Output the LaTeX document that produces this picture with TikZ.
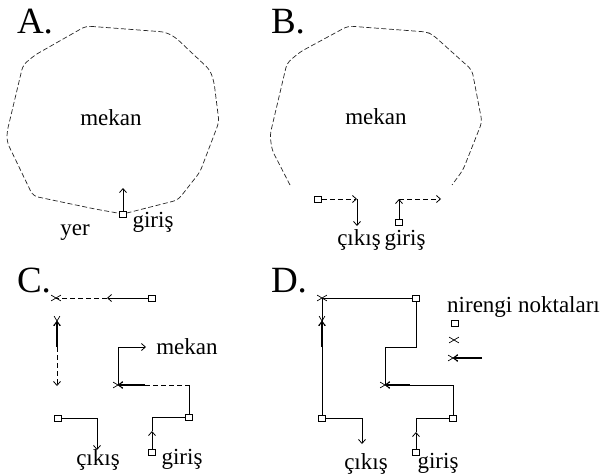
\documentclass[tikz,border=0pt]{standalone}
\usepackage{fontspec}
\setmainfont{Liberation Serif}
\usetikzlibrary{arrows.meta,shapes.misc}
\begin{document}
\begin{tikzpicture}[x=1pt,y=-1pt,
  lab/.style={font=\fontsize{23}{27}\selectfont, inner sep=0pt},
  panel/.style={font=\fontsize{37}{40}\selectfont, inner sep=0pt},
  sq/.style={draw, minimum width=7pt, minimum height=6pt, inner sep=0pt, fill=white, line width=0.8pt},
  hx/.style={draw, cross out, minimum width=9pt, minimum height=5pt, inner sep=0pt, line width=0.7pt},
  vx/.style={draw, cross out, minimum width=5pt, minimum height=9pt, inner sep=0pt, line width=0.7pt},
  ln/.style={line width=0.8pt},
  dsh/.style={line width=0.8pt, dash pattern=on 5pt off 3pt},
  bold/.style={line width=2pt},
  bound/.style={line width=0.7pt, dash pattern=on 5pt off 2.5pt, rounded corners=5pt, black!85},
  tip/.style={-{Straight Barb[length=4pt,width=7pt,line width=0.8pt]}}
]
\useasboundingbox (0,0) rectangle (605,474);

% ---------- A ----------
\node[panel] (LA) at (35,22) {A.};
\draw[bound] (86,26) -- (165,32) -- (175,37) -- (210,70) -- (214,82) -- (219,122) -- (200,172) -- (178,200) -- (123,214) -- (95,209) -- (33,196) -- (7,142) -- (7,132) -- (23,65) -- (35,55) -- cycle;
\node[lab] (mA) at (111,118) {mekan};
\node[sq] (sA) at (123,214) {};
\coordinate (aA) at (123,188);
\draw[ln,tip] (sA) -- (aA);
\node[lab] (gA) at (153,222) {giriş};
\node[lab] (yA) at (75,233) {yer};

% ---------- B ----------
\node[panel] (LB) at (288,22) {B.};
\draw[bound] (290,185) -- (272,150) -- (270,135) -- (287,63) -- (300,52) -- (348,26) -- (427,32) -- (433,35) -- (472,70) -- (482,122) -- (463,170) -- (452,185);
\node[lab] (mB) at (376,117) {mekan};
\node[sq] (sB1) at (318,199) {};
\coordinate (kB1) at (357,199);
\coordinate (eB1) at (357,226);
\draw[dsh,tip] (sB1) -- (kB1);
\draw[ln,tip] (kB1) -- (eB1);
\node[sq] (sB2) at (399,222) {};
\coordinate (kB2) at (399,199);
\coordinate (eB2) at (441,199);
\draw[ln,tip] (sB2) -- (kB2);
\draw[dsh,tip] (kB2) -- (eB2);
\node[lab] (cB) at (359,240) {çıkış};
\node[lab] (gB) at (405,240) {giriş};

% ---------- C ----------
\node[panel] (LC) at (34,281) {C.};
\node[sq] (sC1) at (152,298) {};
\node[hx] (xC1) at (56,298) {};
\coordinate (mC1) at (107,298);
\draw[ln,tip] (sC1) -- (mC1);
\draw[dsh] (mC1) -- (xC1.center);
\node[vx] (xC2) at (57,321) {};
\coordinate (mC2) at (57,347);
\coordinate (eC2) at (57,386);
\draw[bold,tip] (mC2) -- (xC2.center);
\draw[dsh,tip] (mC2) -- (eC2);
\node[hx] (xC3) at (118,385) {};
\coordinate (kC3) at (118,347);
\coordinate (eC3) at (146,347);
\draw[ln,tip] (xC3.center) -- (kC3) -- (eC3);
\node[lab] (mC) at (187,347) {mekan};
\coordinate (mC4) at (145,385);
\coordinate (kC4) at (189,385);
\draw[bold,tip] (mC4) -- (xC3.center);
\draw[dsh] (mC4) -- (kC4);
\node[sq] (sC2) at (189,417) {};
\draw[ln] (kC4) -- (sC2);
\node[sq] (sC3) at (152,452) {};
\coordinate (aC3) at (152,431);
\coordinate (kC5) at (152,417);
\draw[ln,tip] (sC3) -- (aC3);
\draw[ln] (aC3) -- (kC5) -- (sC2);
\node[sq] (sC4) at (58,418) {};
\coordinate (kC6) at (97,418);
\coordinate (eC6) at (97,450);
\draw[ln,tip] (sC4) -- (kC6) -- (eC6);
\node[lab] (cC) at (98,460) {çıkış};
\node[lab] (gC) at (182,459) {giriş};

% ---------- D ----------
\node[panel] (LD) at (289,281) {D.};
\node[sq] (sD1) at (416,298) {};
\node[hx] (xD1) at (322,298) {};
\draw[ln] (sD1) -- (xD1.center);
\node[vx] (xD2) at (322,321) {};
\node[sq] (sD2) at (322,418) {};
\draw[ln] (xD1.center) -- (sD2);
\coordinate (mD2) at (322,347);
\draw[bold,tip] (mD2) -- (xD2.center);
\coordinate (kD3) at (416,347);
\coordinate (kD4) at (385,347);
\node[hx] (xD3) at (385,385) {};
\draw[ln] (sD1) -- (kD3) -- (kD4) -- (xD3.center);
\coordinate (mD5) at (410,385);
\coordinate (kD5) at (453,385);
\node[sq] (sD3) at (453,418) {};
\draw[bold,tip] (mD5) -- (xD3.center);
\draw[ln] (mD5) -- (kD5) -- (sD3);
\node[sq] (sD4) at (416,452) {};
\coordinate (aD4) at (416,432);
\coordinate (kD6) at (416,418);
\draw[ln,tip] (sD4) -- (aD4);
\draw[ln] (aD4) -- (kD6) -- (sD3);
\coordinate (kD7) at (362,418);
\coordinate (eD7) at (362,444);
\draw[ln,tip] (sD2) -- (kD7) -- (eD7);
\node[lab] (cD) at (366,464) {çıkış};
\node[lab] (gD) at (438,463) {giriş};

% legend
\node[lab, anchor=west] (leg) at (447,307) {nirengi noktaları};
\node[sq] (lsq) at (455,323) {};
\node[hx] (lx) at (454,340) {};
\node[hx] (lxa) at (453,358) {};
\coordinate (le) at (482,358);
\draw[bold,tip] (le) -- (lxa.center);
\end{tikzpicture}
\end{document}
